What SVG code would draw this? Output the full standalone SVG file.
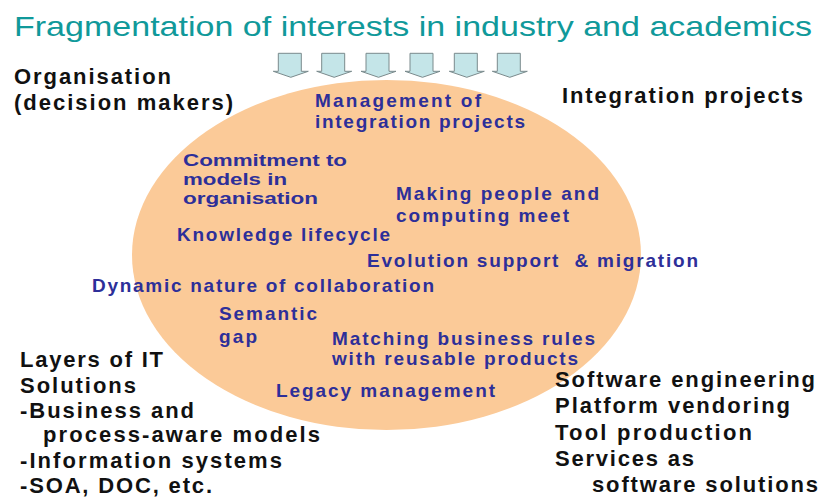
<svg xmlns="http://www.w3.org/2000/svg" xmlns:xlink="http://www.w3.org/1999/xlink" width="821" height="497" viewBox="0 0 821 497">
<style>
.title{font-family:"Liberation Sans",Arial,sans-serif;font-size:28px;fill:#10999a}
.blk{font-family:"Liberation Sans",Arial,sans-serif;font-size:22px;font-weight:bold;fill:#111}
.blu{font-family:"Liberation Sans",Arial,sans-serif;font-size:19px;font-weight:bold;fill:#2d2f99}
.sm{font-size:17px}
.arr{fill:#c4e5e8;stroke:#7a8a8c;stroke-width:1}
</style>
<defs>
<path id="ba" d="M0,0 H23 V18 H30 L12.5,24 L-5,18 H0 Z"/>
</defs>
<rect width="821" height="497" fill="#ffffff"/>
<text class="title" x="14" y="36" textLength="798" lengthAdjust="spacingAndGlyphs">Fragmentation of interests in industry and academics</text>
<g id="ellipse"><ellipse cx="386.5" cy="255" rx="254.5" ry="175" fill="#fbca98"/></g>
<g id="arrows" class="arr">
<use xlink:href="#ba" x="278.3" y="53.3"/>
<use xlink:href="#ba" x="321.7" y="53.3"/>
<use xlink:href="#ba" x="366" y="53.3"/>
<use xlink:href="#ba" x="410" y="53.3"/>
<use xlink:href="#ba" x="454.3" y="53.3"/>
<use xlink:href="#ba" x="497.3" y="53.3"/>
</g>
<g id="organisation">
<text class="blk" x="14" y="84" textLength="157" lengthAdjust="spacing">Organisation</text>
<text class="blk" x="14" y="110" textLength="219" lengthAdjust="spacing">(decision makers)</text>
</g>
<g id="integration">
<text class="blk" x="562" y="103" textLength="241" lengthAdjust="spacing">Integration projects</text>
</g>
<g id="layers">
<text class="blk" x="20" y="367" textLength="143" lengthAdjust="spacing">Layers of IT</text>
<text class="blk" x="20" y="393" textLength="116" lengthAdjust="spacing">Solutions</text>
<text class="blk" x="20" y="418" textLength="174" lengthAdjust="spacing">-Business and</text>
<text class="blk" x="43" y="442" textLength="277" lengthAdjust="spacing">process-aware models</text>
<text class="blk" x="20" y="468" textLength="262" lengthAdjust="spacing">-Information systems</text>
<text class="blk" x="20" y="493" textLength="192" lengthAdjust="spacing">-SOA, DOC, etc.</text>
</g>
<g id="software">
<text class="blk" x="555" y="387" textLength="260" lengthAdjust="spacing">Software engineering</text>
<text class="blk" x="555" y="413" textLength="235" lengthAdjust="spacing">Platform vendoring</text>
<text class="blk" x="555" y="440" textLength="197" lengthAdjust="spacing">Tool production</text>
<text class="blk" x="555" y="466" textLength="139" lengthAdjust="spacing">Services as</text>
<text class="blk" x="592" y="492" textLength="226" lengthAdjust="spacing">software solutions</text>
</g>
<g id="management">
<text class="blu" x="315" y="107" textLength="166" lengthAdjust="spacing">Management of</text>
<text class="blu" x="315" y="128" textLength="210" lengthAdjust="spacing">integration projects</text>
</g>
<g id="commitment">
<text class="blu sm" x="183" y="165.5" textLength="164" lengthAdjust="spacingAndGlyphs">Commitment to</text>
<text class="blu sm" x="183" y="184.5" textLength="104" lengthAdjust="spacingAndGlyphs">models in</text>
<text class="blu sm" x="183" y="203.5" textLength="135" lengthAdjust="spacingAndGlyphs">organisation</text>
</g>
<g id="making">
<text class="blu" x="396" y="200" textLength="203" lengthAdjust="spacing">Making people and</text>
<text class="blu" x="396" y="222" textLength="173" lengthAdjust="spacing">computing meet</text>
</g>
<g id="knowledge">
<text class="blu" x="177" y="241" textLength="213" lengthAdjust="spacing">Knowledge lifecycle</text>
</g>
<g id="evolution">
<text class="blu" x="367" y="267" textLength="331" lengthAdjust="spacing" xml:space="preserve">Evolution support  &amp; migration</text>
</g>
<g id="dynamic">
<text class="blu" x="92" y="292" textLength="342" lengthAdjust="spacing">Dynamic nature of collaboration</text>
</g>
<g id="semantic">
<text class="blu" x="219" y="320" textLength="98" lengthAdjust="spacing">Semantic</text>
<text class="blu" x="219" y="343" textLength="38" lengthAdjust="spacing">gap</text>
</g>
<g id="matching">
<text class="blu" x="332" y="345" textLength="263" lengthAdjust="spacing">Matching business rules</text>
<text class="blu" x="332" y="365" textLength="246" lengthAdjust="spacing">with reusable products</text>
</g>
<g id="legacy">
<text class="blu" x="276" y="397" textLength="219" lengthAdjust="spacing">Legacy management</text>
</g>
</svg>
